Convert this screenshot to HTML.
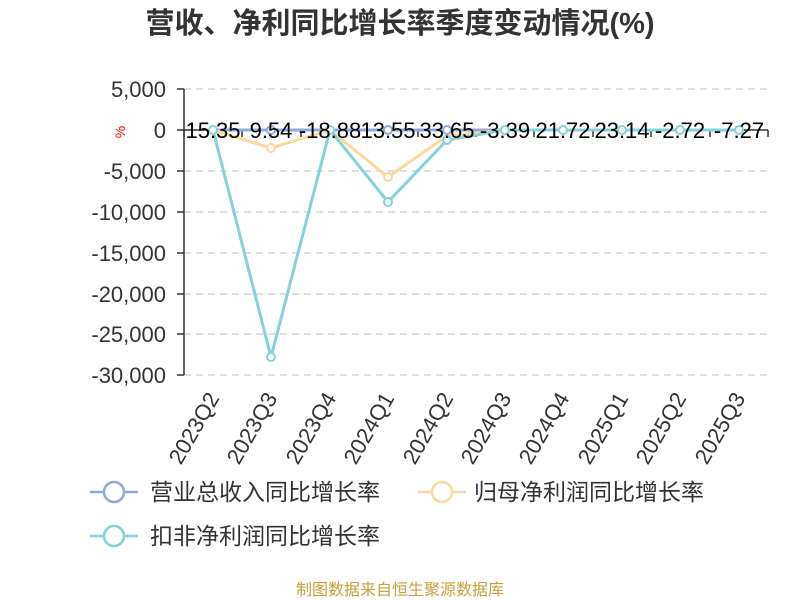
<!DOCTYPE html>
<html><head><meta charset="utf-8"><style>body{margin:0;background:#fff}svg{display:block}</style></head><body>
<svg width="800" height="600" xmlns="http://www.w3.org/2000/svg" font-family="Liberation Sans, Noto Sans CJK SC, sans-serif">
<text x="400" y="33" text-anchor="middle" font-size="29" font-weight="bold" fill="#333">营收、净利同比增长率季度变动情况(%)</text>
<g stroke="#ccc" stroke-dasharray="7,5" stroke-width="1.3">
<line x1="184" x2="768" y1="89" y2="89"/><line x1="184" x2="768" y1="171" y2="171"/><line x1="184" x2="768" y1="212" y2="212"/><line x1="184" x2="768" y1="253" y2="253"/><line x1="184" x2="768" y1="294" y2="294"/><line x1="184" x2="768" y1="334" y2="334"/><line x1="184" x2="768" y1="375" y2="375"/>
</g>
<g stroke="#333" stroke-width="1.5">
<line x1="184" x2="184" y1="89" y2="375"/>
<line x1="177" x2="184" y1="89" y2="89"/><line x1="177" x2="184" y1="130" y2="130"/><line x1="177" x2="184" y1="171" y2="171"/><line x1="177" x2="184" y1="212" y2="212"/><line x1="177" x2="184" y1="253" y2="253"/><line x1="177" x2="184" y1="294" y2="294"/><line x1="177" x2="184" y1="334" y2="334"/><line x1="177" x2="184" y1="375" y2="375"/>
<line x1="184" x2="768" y1="130" y2="130"/>
<line x1="184" x2="184" y1="130" y2="137"/><line x1="242" x2="242" y1="130" y2="137"/><line x1="301" x2="301" y1="130" y2="137"/><line x1="359" x2="359" y1="130" y2="137"/><line x1="418" x2="418" y1="130" y2="137"/><line x1="476" x2="476" y1="130" y2="137"/><line x1="534" x2="534" y1="130" y2="137"/><line x1="593" x2="593" y1="130" y2="137"/><line x1="651" x2="651" y1="130" y2="137"/><line x1="710" x2="710" y1="130" y2="137"/><line x1="768" x2="768" y1="130" y2="137"/>
</g>
<g font-size="22" fill="#333" text-anchor="end">
<text x="166" y="97">5,000</text><text x="166" y="138">0</text><text x="166" y="179">-5,000</text><text x="166" y="220">-10,000</text><text x="166" y="261">-15,000</text><text x="166" y="302">-20,000</text><text x="166" y="342">-25,000</text><text x="166" y="383">-30,000</text>
</g>
<text x="125" y="132" font-size="14" fill="red" text-anchor="middle" transform="rotate(-90 125 132)">%</text>
<polyline fill="none" stroke="#8eaadb" stroke-width="3" points="213,130 271,130 330,130 388,130 447,130 505,130 563,130 622,130 680,130 739,130"/>
<polyline fill="none" stroke="#fdd89a" stroke-width="3" points="213,130 271,148 330,130 388,177 447,136 505,130 563,130 622,130 680,130 739,130"/>
<polyline fill="none" stroke="#85d3d8" stroke-width="3" points="213,130 271,357 330,130 388,202 447,140 505,130 563,130 622,130 680,130 739,130"/>
<g fill="#fff" stroke-width="2">
<g stroke="#8eaadb"><circle cx="271" cy="130" r="4"/><circle cx="388" cy="130" r="4"/><circle cx="447" cy="130" r="4"/></g>
<g stroke="#fdd89a"><circle cx="271" cy="148" r="4"/><circle cx="388" cy="177" r="4"/></g>
<g stroke="#85d3d8"><circle cx="213" cy="130" r="4"/><circle cx="271" cy="357" r="4"/><circle cx="330" cy="130" r="4"/><circle cx="388" cy="202" r="4"/><circle cx="447" cy="140" r="4"/><circle cx="505" cy="130" r="4"/><circle cx="563" cy="130" r="4"/><circle cx="622" cy="130" r="4"/><circle cx="680" cy="130" r="4"/><circle cx="739" cy="130" r="4"/></g>
</g>
<g font-size="22" fill="#000" text-anchor="middle">
<text x="213" y="138">15.35</text><text x="271" y="138">9.54</text><text x="330" y="138">-18.88</text><text x="388" y="138">13.55</text><text x="447" y="138">33.65</text><text x="505" y="138">-3.39</text><text x="563" y="138">21.72</text><text x="622" y="138">23.14</text><text x="680" y="138">-2.72</text><text x="739" y="138">-7.27</text>
</g>
<g font-size="22" fill="#333" text-anchor="end">
<text transform="translate(220,398) rotate(-60)">2023Q2</text>
<text transform="translate(278,398) rotate(-60)">2023Q3</text>
<text transform="translate(337,398) rotate(-60)">2023Q4</text>
<text transform="translate(395,398) rotate(-60)">2024Q1</text>
<text transform="translate(454,398) rotate(-60)">2024Q2</text>
<text transform="translate(512,398) rotate(-60)">2024Q3</text>
<text transform="translate(570,398) rotate(-60)">2024Q4</text>
<text transform="translate(629,398) rotate(-60)">2025Q1</text>
<text transform="translate(687,398) rotate(-60)">2025Q2</text>
<text transform="translate(746,398) rotate(-60)">2025Q3</text>
</g>
<g stroke-width="2.5" fill="#fff">
<line x1="90" x2="138" y1="492" y2="492" stroke="#8eaadb"/><circle cx="114" cy="492" r="10" stroke="#8eaadb"/>
<line x1="418" x2="466" y1="492" y2="492" stroke="#fdd89a"/><circle cx="442" cy="492" r="10" stroke="#fdd89a"/>
<line x1="90" x2="138" y1="536" y2="536" stroke="#85d3d8"/><circle cx="114" cy="536" r="10" stroke="#85d3d8"/>
</g>
<g font-size="23" fill="#333">
<text x="150" y="500">营业总收入同比增长率</text>
<text x="474" y="500">归母净利润同比增长率</text>
<text x="150" y="544">扣非净利润同比增长率</text>
</g>
<text x="400" y="595" text-anchor="middle" font-size="16" fill="#c8a040">制图数据来自恒生聚源数据库</text>
</svg>
</body></html>
